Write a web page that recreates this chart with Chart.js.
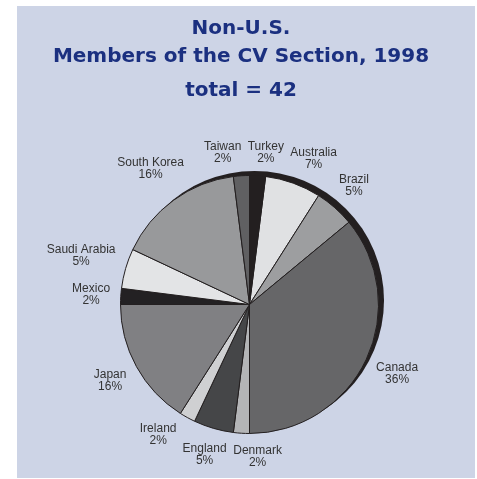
<!DOCTYPE html>
<html>
<head>
<meta charset="utf-8">
<script src="https://cdn.jsdelivr.net/npm/chart.js@4.4.0/dist/chart.umd.min.js"></script>
<style>
    html, body { margin: 0; padding: 0; background: #ffffff; }
    #wrap { position: relative; width: 477px; height: 479px; }
    #panel { position: absolute; left: 17px; top: 6px; width: 458px; height: 472px; background: #cdd4e6; }
    #myChart { position: absolute; left: 0; top: 0; }
</style>
</head>
<body>
<div id="wrap">
    <div id="panel"></div>
    <canvas id="myChart" width="477" height="479"></canvas>
</div>
<script>
// chart data
const countries = ['Australia', 'Brazil', 'Canada', 'Denmark', 'England', 'Ireland',
    'Japan', 'Mexico', 'Saudi Arabia', 'South Korea', 'Taiwan', 'Turkey']
const shares = [7, 5, 36, 2, 5, 2, 16, 2, 5, 16, 2, 2]
const sliceColors = ['#e0e1e3', '#9d9ea0', '#666668', '#b4b5b7', '#454648', '#cfd0d2',
    '#808083', '#232123', '#e3e4e6', '#98999b', '#606062', '#231f20']
const titleLines = ['Non-U.S.', 'Members of the CV Section, 1998', 'total = 42']

// title drawn on the canvas (centred a bit left of the pie)
const titleBaselines = [33.5, 62, 96]
const titleText = {
    id: 'titleText',
    afterDraw(chart) {
        const ctx = chart.ctx
        ctx.save()
        ctx.font = 'bold 20px "DejaVu Sans", Verdana, sans-serif'
        ctx.fillStyle = '#1b3080'
        ctx.textAlign = 'center'
        ctx.textBaseline = 'alphabetic'
        titleLines.forEach((t, i) => ctx.fillText(t, 241, titleBaselines[i]))
        ctx.restore()
    }
}

// dark rim behind the pie, gives the 3d edge on the top right
const pieRim = {
    id: 'pieRim',
    beforeDatasetsDraw(chart) {
        const arc = chart.getDatasetMeta(0).data[0]
        const ctx = chart.ctx
        ctx.save()
        ctx.fillStyle = '#231f20'
        ctx.beginPath()
        ctx.arc(arc.x + 5, arc.y - 4, arc.outerRadius + 0.5, 0, Math.PI * 2)
        ctx.fill()
        ctx.restore()
    }
}

// name + percent outside each slice, pushed apart when they collide
const LINE = 12
const GAP = 10
const sliceLabels = {
    id: 'sliceLabels',
    afterDatasetsDraw(chart) {
        const ctx = chart.ctx
        const arcs = chart.getDatasetMeta(0).data
        ctx.save()
        ctx.font = '12px "Liberation Sans", Arial, sans-serif'
        ctx.fillStyle = '#333333'
        ctx.textAlign = 'center'
        ctx.textBaseline = 'middle'

        const items = arcs.map((arc, i) => {
            const lines = [countries[i], shares[i] + '%']
            return {
                arc, lines,
                angle: (arc.startAngle + arc.endAngle) / 2,
                w: Math.max(...lines.map(t => ctx.measureText(t).width)),
                h: lines.length * LINE
            }
        })
        const place = it => {
            const ux = Math.cos(it.angle), uy = Math.sin(it.angle)
            const d = it.arc.outerRadius + GAP + Math.abs(ux) * it.w / 2 + Math.abs(uy) * it.h / 2
            it.x = it.arc.x + ux * d
            it.y = it.arc.y + uy * d
        }
        const hits = (a, b) => Math.abs(a.x - b.x) < (a.w + b.w) / 2 + 6 &&
            Math.abs(a.y - b.y) < (a.h + b.h) / 2 + 1
        for (let n = 0; n < 400; n++) {
            items.forEach(place)
            let moved = false
            items.forEach((a, i) => {
                const b = items[(i + 1) % items.length]
                if (hits(a, b)) { a.angle -= 0.004; b.angle += 0.004; moved = true }
            })
            if (!moved) break
        }
        items.forEach(place)
        items.forEach(it => {
            it.lines.forEach((t, k) => ctx.fillText(t, it.x, it.y + (k - (it.lines.length - 1) / 2) * LINE))
        })
        ctx.restore()
    }
}

const ctx = document.getElementById('myChart')
new Chart(ctx, {
    type: 'pie',
    data: {
        labels: countries,
        datasets: [{
            data: shares,
            backgroundColor: sliceColors,
            borderColor: '#231f20',
            borderWidth: 1
        }]
    },
    options: {
        responsive: false,
        animation: false,
        rotation: 7.2,
        layout: { padding: { left: 120, right: 98, top: 175, bottom: 45 } },
        plugins: {
            legend: { display: false },
            tooltip: { enabled: false }
        }
    },
    plugins: [pieRim, sliceLabels, titleText]
})
</script>
</body>
</html>
